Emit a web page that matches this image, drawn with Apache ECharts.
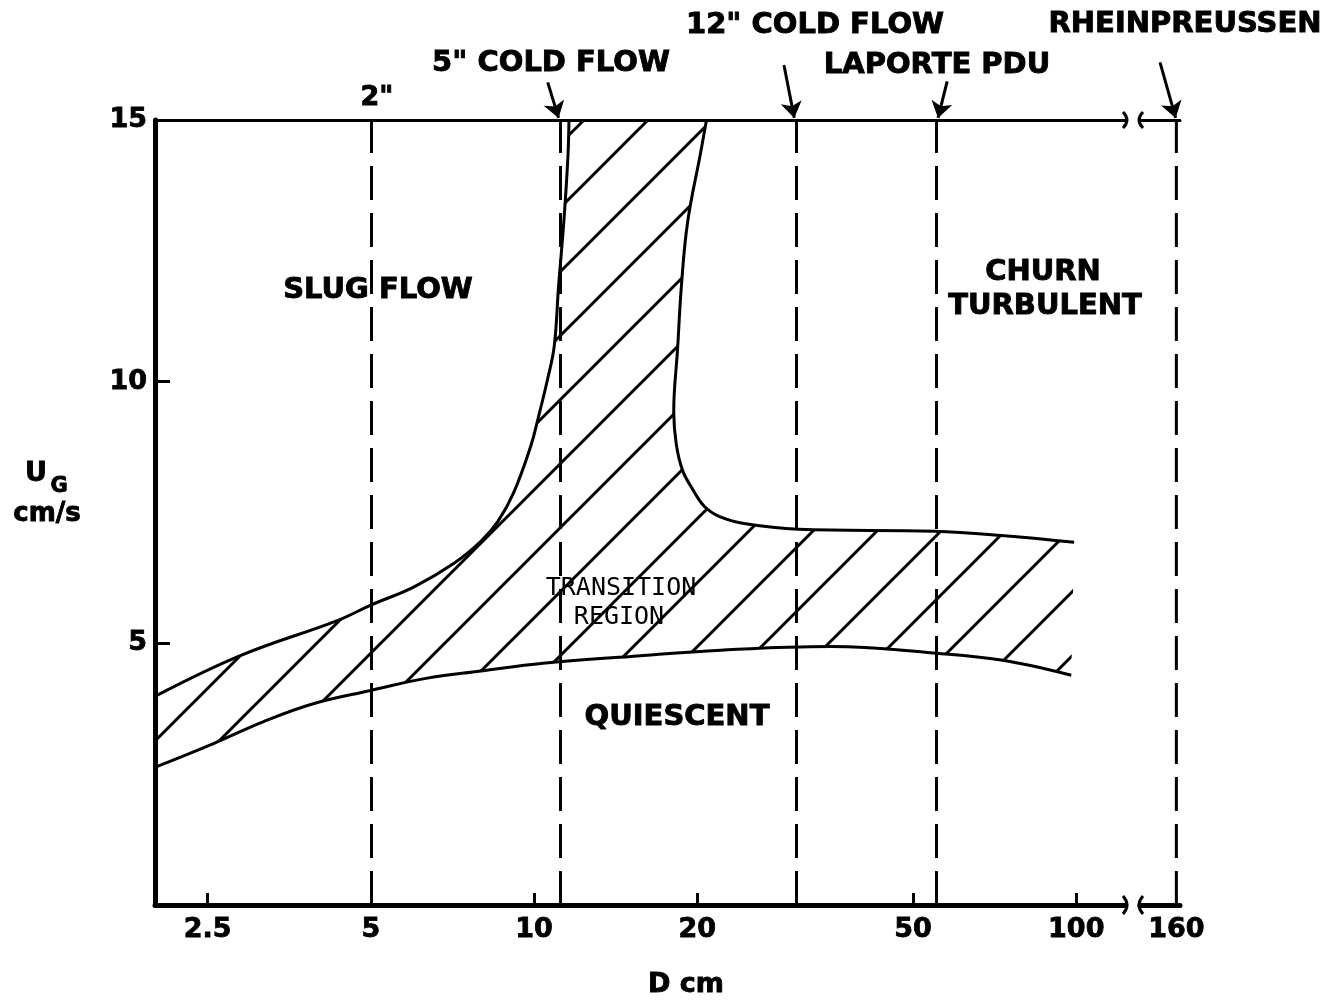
<!DOCTYPE html>
<html><head><meta charset="utf-8">
<script src="https://cdn.jsdelivr.net/npm/echarts@6/dist/echarts.min.js"></script>
<style>html,body{margin:0;padding:0;background:#fff}#c{width:1336px;height:1000px}</style>
</head><body><div id="c"></div>
<script>
// ---------- data ----------
const xTickValues = [2.5, 5, 10, 20, 50, 100];
const yLabelValues = [5, 10, 15];
const yTickValues = [5, 10];
const breakTickValues = [160];

// lower boundary: quiescent / transition
const quiescentD = [2.02, 2.57, 3.18, 3.93, 5.0, 6.32, 7.98, 10.4, 15.1, 22.1, 35.3, 55.2, 72.7, 97.9];
const quiescentU = [2.65, 3.09, 3.51, 3.85, 4.10, 4.33, 4.47, 4.62, 4.75, 4.87, 4.94, 4.81, 4.68, 4.39];

// upper-left boundary: slug flow / transition
const slugD = [2.02, 2.88, 4.35, 5.0, 6.01, 7.12, 7.98, 8.58, 9.19, 9.87, 10.17, 10.6, 10.9, 11.1, 11.36, 11.55, 11.6];
const slugU = [4.01, 4.77, 5.44, 5.73, 6.08, 6.53, 6.95, 7.33, 7.90, 8.78, 9.29, 10.06, 10.69, 11.83, 13.11, 14.31, 15.0];

// upper-right boundary: churn turbulent / transition
const churnD = [20.8, 20.3, 19.2, 18.7, 18.4, 18.1, 18.3, 18.8, 19.6, 20.6, 22.0, 24.4, 30.7, 54.7, 72.7, 99.1];
const churnU = [15.0, 14.39, 13.05, 11.83, 10.63, 9.43, 8.80, 8.30, 7.95, 7.62, 7.42, 7.29, 7.18, 7.14, 7.06, 6.93];

// column diameters (dashed lines)
const columnNames = ['2"', '5" COLD FLOW', '12" COLD FLOW', 'LAPORTE PDU'];
const columnD = [5.0, 11.2, 30.4, 55.2];
const rheinD = 160;

// arrows from labels to the columns
const arrowFromD = [10.6, 28.9, 57.8];
const arrowFromU = [15.72, 16.05, 15.74];
const arrowToD = [11.1, 30.2, 55.6];
const arrowToU = [15.04, 15.04, 15.04];
const rheinArrowFrom = [151, 16.1];
const rheinArrowTo = [159.6, 15.04];

// ---------- hatch pattern ----------
const S = 64;
const cv = document.createElement('canvas');
cv.width = S; cv.height = S;
const g = cv.getContext('2d');
g.strokeStyle = '#000'; g.lineWidth = 3;
g.beginPath();
[0, S, 2 * S].forEach(c => { g.moveTo(c + 4, -4); g.lineTo(c - S - 4, S + 4); });
g.stroke();
const hatch = { image: cv, repeat: 'repeat' };

const BF = 'DejaVu Sans';
const pair = (a, b) => a.map((v, i) => [v, b[i]]);

const lineStyleBase = { color: '#000', width: 3 };
const tickFont = { fontFamily: BF, fontWeight: 'bold', fontSize: 27, color: '#000', textBorderColor: '#000', textBorderWidth: 0.8 };

const chart = echarts.init(document.getElementById('c'), null, { renderer: 'canvas' });

function txt(text, x, y, size, family, weight) {
  const bold = !family;
  return {
    type: 'text', x: x, y: y, silent: true,
    style: { text: text, fontFamily: family || BF, fontWeight: weight || 'bold', fontSize: size, fill: '#000',
      stroke: bold ? '#000' : null, lineWidth: bold ? 0.9 : 0, align: 'center', verticalAlign: 'middle' }
  };
}
function curl(x1, y1, cx, cy, x2, y2) {
  return { type: 'bezierCurve', silent: true, shape: { x1: x1, y1: y1, cpx1: cx, cpy1: cy, x2: x2, y2: y2 },
    style: { fill: null, stroke: '#000', lineWidth: 3 } };
}

const option = {
  animation: false,
  backgroundColor: '#fff',
  grid: [
    { left: 155, top: 120, width: 970, height: 785 },
    { left: 1140, top: 120, width: 40, height: 785 }
  ],
  xAxis: [
    { gridIndex: 0, type: 'log', logBase: 10, min: 2, max: 123, position: 'bottom',
      axisLine: { onZero: false, lineStyle: { color: '#000', width: 5 } },
      axisTick: { show: true, inside: true, length: 12, lineStyle: { color: '#000', width: 3 }, customValues: xTickValues },
      axisLabel: Object.assign({ customValues: xTickValues, margin: 11,
        formatter: v => String(Math.round(v * 10) / 10) }, tickFont),
      splitLine: { show: false }, minorTick: { show: false } },
    { gridIndex: 0, type: 'log', logBase: 10, min: 2, max: 123, position: 'top',
      axisLine: { onZero: false, lineStyle: { color: '#000', width: 3 } },
      axisTick: { show: false }, axisLabel: { show: false }, splitLine: { show: false } },
    { gridIndex: 1, type: 'value', min: 140, max: 162, position: 'bottom',
      axisLine: { onZero: false, lineStyle: { color: '#000', width: 5 } },
      axisTick: { show: false },
      axisLabel: Object.assign({ customValues: breakTickValues, margin: 11 }, tickFont),
      splitLine: { show: false } },
    { gridIndex: 1, type: 'value', min: 140, max: 162, position: 'top',
      axisLine: { onZero: false, lineStyle: { color: '#000', width: 3 } },
      axisTick: { show: false }, axisLabel: { show: false }, splitLine: { show: false } }
  ],
  yAxis: [
    { gridIndex: 0, type: 'value', min: 0, max: 15, interval: 5,
      axisLine: { show: true, onZero: false, lineStyle: { color: '#000', width: 5 } },
      axisTick: { show: true, inside: true, length: 15, lineStyle: { color: '#000', width: 3 }, customValues: yTickValues },
      axisLabel: Object.assign({ customValues: yLabelValues, margin: 8 }, tickFont),
      splitLine: { show: false } },
    { gridIndex: 1, type: 'value', min: 0, max: 15, show: false }
  ],
  series: [
    { type: 'custom', coordinateSystem: 'cartesian2d', xAxisIndex: 0, yAxisIndex: 0, silent: true, z: 1,
      data: [[10, 5]], encode: { x: 0, y: 1 },
      renderItem: function (params, api) {
        const pts = [];
        for (let i = 0; i < quiescentD.length; i++) pts.push(api.coord([quiescentD[i], quiescentU[i]]));
        for (let i = churnD.length - 1; i >= 0; i--) pts.push(api.coord([churnD[i], churnU[i]]));
        for (let i = slugD.length - 1; i >= 0; i--) pts.push(api.coord([slugD[i], slugU[i]]));
        return { type: 'polygon', shape: { points: pts }, style: { fill: hatch, stroke: null } };
      } },
    { name: 'quiescent', type: 'line', xAxisIndex: 0, yAxisIndex: 0, data: pair(quiescentD, quiescentU),
      smooth: 0.4, showSymbol: false, lineStyle: lineStyleBase, silent: true, z: 3, clip: false,
      markLine: { silent: true, symbol: ['none', 'none'], label: { show: false },
        lineStyle: { color: '#000', width: 3, type: [34, 13] },
        data: columnD.map((d, i) => ({ name: columnNames[i], xAxis: d })) } },
    { name: 'slug', type: 'line', xAxisIndex: 0, yAxisIndex: 0, data: pair(slugD, slugU),
      smooth: 0.4, showSymbol: false, lineStyle: lineStyleBase, silent: true, z: 3, clip: false },
    { name: 'churn', type: 'line', xAxisIndex: 0, yAxisIndex: 0, data: pair(churnD, churnU),
      smooth: 0.4, showSymbol: false, lineStyle: lineStyleBase, silent: true, z: 3, clip: false },
    { name: 'arrows', type: 'lines', coordinateSystem: 'cartesian2d', xAxisIndex: 0, yAxisIndex: 0,
      clip: false, silent: true, z: 4, symbol: ['none', 'arrow'], symbolSize: [11, 16],
      lineStyle: { color: '#000', width: 3, opacity: 1, curveness: 0 },
      data: arrowFromD.map((d, i) => ({ coords: [[d, arrowFromU[i]], [arrowToD[i], arrowToU[i]]] })) },
    { name: 'RHEINPREUSSEN', type: 'line', xAxisIndex: 2, yAxisIndex: 1, data: [[rheinD, 0], [rheinD, 15]],
      showSymbol: false, silent: true, clip: false,
      lineStyle: { color: '#000', width: 3, type: [34, 13] } },
    { name: 'rheinArrow', type: 'lines', coordinateSystem: 'cartesian2d', xAxisIndex: 2, yAxisIndex: 1,
      clip: false, silent: true, z: 4, symbol: ['none', 'arrow'], symbolSize: [11, 16],
      lineStyle: { color: '#000', width: 3, opacity: 1, curveness: 0 },
      data: [{ coords: [rheinArrowFrom, rheinArrowTo] }] }
  ],
  graphic: [
    txt('2"', 377, 98, 27),
    txt('5" COLD FLOW', 551, 63, 29),
    txt('12" COLD FLOW', 815, 25, 29),
    txt('LAPORTE PDU', 937, 65, 29),
    txt('RHEINPREUSSEN', 1185, 24, 29),
    txt('SLUG FLOW', 378, 290, 29),
    txt('CHURN', 1043, 272, 29),
    txt('TURBULENT', 1045, 306, 29),
    txt('TRANSITION', 621, 588, 25, 'DejaVu Sans Mono', 'normal'),
    txt('REGION', 619, 617, 25, 'DejaVu Sans Mono', 'normal'),
    txt('QUIESCENT', 677, 717, 29),
    txt('U', 36, 474, 27),
    txt('G', 59, 487, 21),
    txt('cm/s', 47, 514, 26),
    txt('D cm', 686, 985, 27),
    curl(1123, 112, 1131, 120, 1123, 128),
    curl(1143, 112, 1135, 120, 1143, 128),
    curl(1123, 896, 1131, 905, 1123, 914),
    curl(1143, 896, 1135, 905, 1143, 914)
  ]
};
chart.setOption(option);
</script>
</body></html>
